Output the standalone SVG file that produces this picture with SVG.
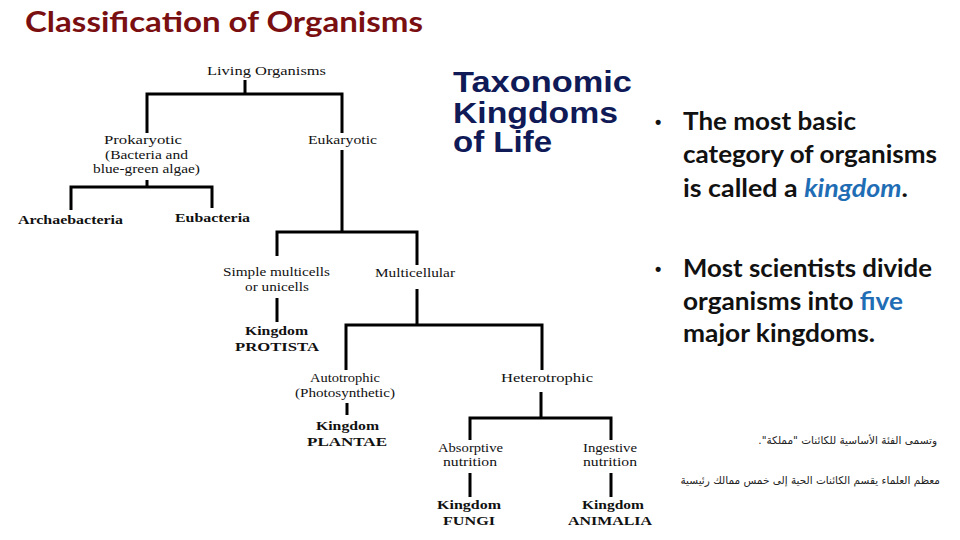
<svg xmlns="http://www.w3.org/2000/svg" width="960" height="540" viewBox="0 0 960 540">
<style>
.t{font-family:"Liberation Serif","Times New Roman",serif;font-size:13.5px;fill:#111}
.b{font-family:"Liberation Serif","Times New Roman",serif;font-size:13.5px;font-weight:bold;fill:#111}
.ln{fill:none;stroke:#000;stroke-width:3;stroke-linecap:butt}
.tax{font-family:"Liberation Sans",Arial,sans-serif;font-size:29px;font-weight:bold;fill:#0f1a57}
.bl{font-family:Lato,"Liberation Sans",sans-serif;font-size:24px;font-weight:bold;fill:#111}
.dot{font-family:"Liberation Sans",Arial,sans-serif;font-size:18px;font-weight:bold;fill:#111}
.kw{fill:#1f6eb5}
.ar{font-family:"DejaVu Sans","Noto Sans",sans-serif;font-size:10.5px;fill:#222}
</style>
<rect width="960" height="540" fill="#fff"/>
<text x="25" y="32" font-family="Lato,'Liberation Sans',sans-serif" font-size="29" font-weight="bold" fill="#7a0f12" textLength="398" lengthAdjust="spacingAndGlyphs">Classification of Organisms</text>

<g id="connectors">
<path class="ln" d="M245,80V94M147,133V94H342V133"/>
<path class="ln" d="M342,150V232M277,256V232H417V265"/>
<path class="ln" d="M147,180V187M71,210V187H212V208"/>
<path class="ln" d="M277,298V322"/>
<path class="ln" d="M417,289V325M346,370V325H542V370"/>
<path class="ln" d="M347,403V415"/>
<path class="ln" d="M541,392V418M470,440V418H611V440"/>
<path class="ln" d="M470,473V497M611,473V497"/>
</g>

<g id="living"><text class="t" x="207" y="75" textLength="119" lengthAdjust="spacingAndGlyphs">Living Organisms</text></g>
<g id="prokaryotic">
<text class="t" x="104" y="144" textLength="78" lengthAdjust="spacingAndGlyphs">Prokaryotic</text>
<text class="t" x="105" y="159" textLength="83" lengthAdjust="spacingAndGlyphs">(Bacteria and</text>
<text class="t" x="93" y="173" textLength="107" lengthAdjust="spacingAndGlyphs">blue-green algae)</text>
</g>
<g id="eukaryotic"><text class="t" x="308" y="144" textLength="69" lengthAdjust="spacingAndGlyphs">Eukaryotic</text></g>
<g id="archaebacteria"><text class="b" x="18" y="224" textLength="105" lengthAdjust="spacingAndGlyphs">Archaebacteria</text></g>
<g id="eubacteria"><text class="b" x="175" y="222" textLength="75" lengthAdjust="spacingAndGlyphs">Eubacteria</text></g>
<g id="simple">
<text class="t" x="223" y="276" textLength="107" lengthAdjust="spacingAndGlyphs">Simple multicells</text>
<text class="t" x="245" y="291" textLength="64" lengthAdjust="spacingAndGlyphs">or unicells</text>
</g>
<g id="multicellular"><text class="t" x="375" y="277" textLength="80" lengthAdjust="spacingAndGlyphs">Multicellular</text></g>
<g id="protista">
<text class="b" x="245" y="335" textLength="63" lengthAdjust="spacingAndGlyphs">Kingdom</text>
<text class="b" x="235" y="351" textLength="84" lengthAdjust="spacingAndGlyphs">PROTISTA</text>
</g>
<g id="autotrophic">
<text class="t" x="310" y="382" textLength="70" lengthAdjust="spacingAndGlyphs">Autotrophic</text>
<text class="t" x="295" y="397" textLength="100" lengthAdjust="spacingAndGlyphs">(Photosynthetic)</text>
</g>
<g id="heterotrophic"><text class="t" x="501" y="382" textLength="92" lengthAdjust="spacingAndGlyphs">Heterotrophic</text></g>
<g id="plantae">
<text class="b" x="316" y="430" textLength="63" lengthAdjust="spacingAndGlyphs">Kingdom</text>
<text class="b" x="307" y="446" textLength="80" lengthAdjust="spacingAndGlyphs">PLANTAE</text>
</g>
<g id="absorptive">
<text class="t" x="438" y="452" textLength="65" lengthAdjust="spacingAndGlyphs">Absorptive</text>
<text class="t" x="443" y="466" textLength="54" lengthAdjust="spacingAndGlyphs">nutrition</text>
</g>
<g id="ingestive">
<text class="t" x="583" y="452" textLength="54" lengthAdjust="spacingAndGlyphs">Ingestive</text>
<text class="t" x="583" y="466" textLength="54" lengthAdjust="spacingAndGlyphs">nutrition</text>
</g>
<g id="fungi">
<text class="b" x="437" y="509" textLength="64" lengthAdjust="spacingAndGlyphs">Kingdom</text>
<text class="b" x="443" y="525" textLength="52" lengthAdjust="spacingAndGlyphs">FUNGI</text>
</g>
<g id="animalia">
<text class="b" x="582" y="509" textLength="62" lengthAdjust="spacingAndGlyphs">Kingdom</text>
<text class="b" x="568" y="525" textLength="84" lengthAdjust="spacingAndGlyphs">ANIMALIA</text>
</g>

<g id="taxonomic-title">
<text class="tax" x="453" y="92" textLength="179" lengthAdjust="spacingAndGlyphs">Taxonomic</text>
<text class="tax" x="453" y="123" textLength="165" lengthAdjust="spacingAndGlyphs">Kingdoms</text>
<text class="tax" x="453" y="152" textLength="99" lengthAdjust="spacingAndGlyphs">of Life</text>
</g>

<g id="bullets">
<text class="dot" x="655" y="128">•</text>
<text class="bl" x="683" y="130" textLength="173" lengthAdjust="spacingAndGlyphs">The most basic</text>
<text class="bl" x="683" y="163" textLength="254" lengthAdjust="spacingAndGlyphs">category of organisms</text>
<text class="bl" x="683" y="197" textLength="225" lengthAdjust="spacingAndGlyphs">is called a <tspan class="kw" font-style="italic">kingdom</tspan>.</text>
<text class="dot" x="655" y="275">•</text>
<text class="bl" x="683" y="277" textLength="249" lengthAdjust="spacingAndGlyphs">Most scientists divide</text>
<text class="bl" x="683" y="310" textLength="220" lengthAdjust="spacingAndGlyphs">organisms into <tspan class="kw">five</tspan></text>
<text class="bl" x="683" y="342" textLength="192" lengthAdjust="spacingAndGlyphs">major kingdoms.</text>
</g>

<g id="arabic">
<text class="ar" x="937" y="444" text-anchor="start" direction="rtl">وتسمى الفئة الأساسية للكائنات "مملكة".</text>
<text class="ar" x="940" y="484" text-anchor="start" direction="rtl">معظم العلماء يقسم الكائنات الحية إلى خمس ممالك رئيسية</text>
</g>
</svg>
